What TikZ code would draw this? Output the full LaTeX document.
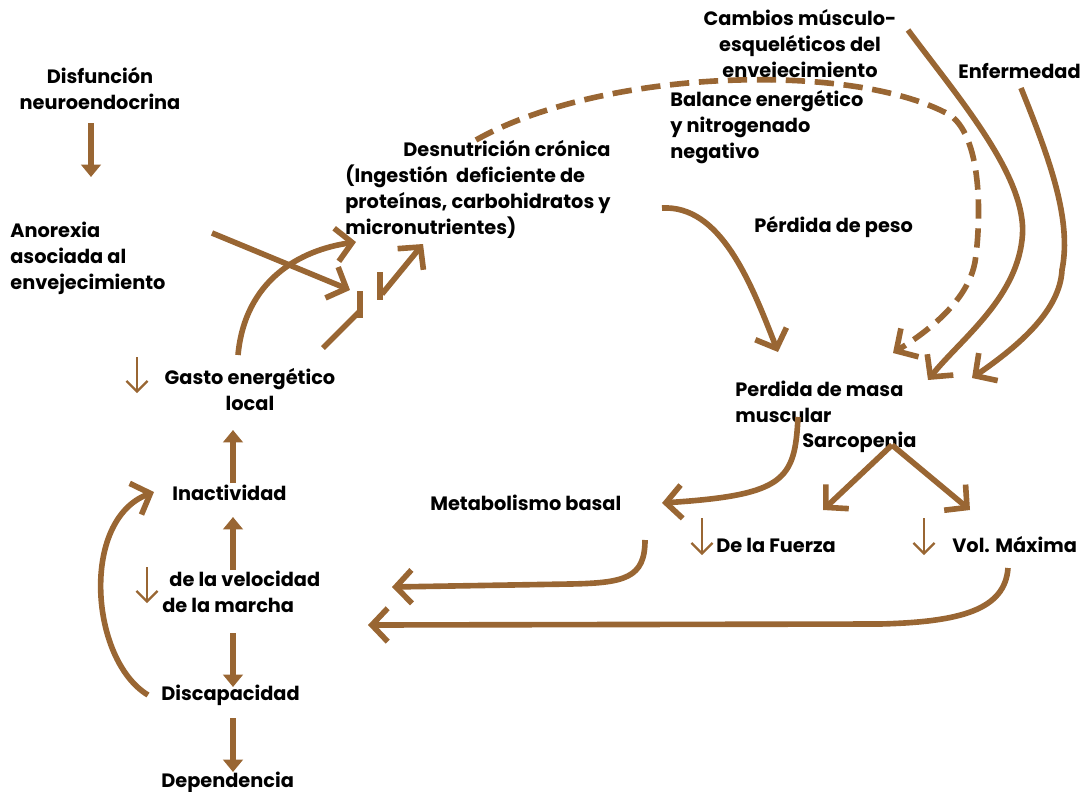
\documentclass[tikz,border=0pt]{standalone}
\usepackage{fontspec}
\setmainfont{Poppins}
\usetikzlibrary{arrows.meta}
\definecolor{brn}{RGB}{153,102,51}

\tikzset{
  lbl/.style={font=\bfseries\fontsize{11}{14.7}\selectfont, inner sep=0pt, anchor=base west, align=left},
  flow/.style={draw=brn, line width=3.2pt, -{Straight Barb[length=9pt,width=19pt]}},
  vflow/.style={draw=brn, line width=3.4pt, -{Triangle[length=7pt,width=11pt]}},
  dn/.style={draw=brn, line width=1.3pt, -{Straight Barb[length=6pt,width=12pt]}},
}

\begin{document}
\begin{tikzpicture}[x=0.02cm, y=-0.02cm]
    \useasboundingbox (0,0) rectangle (1090,792);

    % Labels (placed at the baseline of their last line)
    \node[lbl, anchor=base, align=center] (disf) at (100,109) {Disfunción\\neuroendocrina};
    \node[lbl] (anor) at (10,289) {Anorexia\\asociada al\\envejecimiento};
    \node[lbl] (desn) at (345,234) {\hspace*{33pt}Desnutrición crónica\\(Ingestión\ \ deficiente de\\proteínas, carbohidratos y\\micronutrientes)};
    \node[lbl, anchor=base, align=center] (camb) at (800,77) {Cambios músculo-\\esqueléticos del\\envejecimiento};
    \node[lbl] (enf) at (958,78) {Enfermedad};
    \node[lbl] (bal) at (670,158) {Balance energético\\y nitrogenado\\negativo};
    \node[lbl] (peso) at (754,232) {Pérdida de peso};
    \node[lbl] (masa) at (735,422) {Perdida de masa\\muscular};
    \node[lbl] (sarc) at (802,447) {Sarcopenia};
    \node[lbl] (meta) at (430,510) {Metabolismo basal};
    \node[lbl] (fuer) at (716,552) {De la Fuerza};
    \node[lbl] (vol) at (952,552) {Vol. Máxima};
    \node[lbl, anchor=base, align=center] (gasto) at (250,410) {Gasto energético\\local};
    \node[lbl] (inac) at (172,500) {Inactividad};
    \node[lbl] (velo) at (162,612) {\hspace*{4pt}de la velocidad\\de la marcha};
    \node[lbl] (disc) at (161,700) {Discapacidad};
    \node[lbl] (depe) at (161,787) {Dependencia};

    % Points
    \coordinate (d1) at (91,123);   \coordinate (d2) at (91,177);
    \coordinate (a1) at (212,233);  \coordinate (a2) at (350,290);
    \coordinate (g1) at (238,355);  \coordinate (g2) at (356,242);
    \coordinate (x1) at (323,348);  \coordinate (x2) at (361,310);
    \coordinate (x3) at (382,294);  \coordinate (x4) at (423,244);
    \coordinate (b1) at (360,291);  \coordinate (b2) at (360,318);
    \coordinate (b3) at (380,272);  \coordinate (b4) at (380,300);
    \coordinate (s1) at (476,140);  \coordinate (s2) at (950,115);
    \coordinate (s3) at (975,262);  \coordinate (s4) at (893,353);
    \coordinate (c1) at (908,30);   \coordinate (c2) at (1022,240);
    \coordinate (c3) at (928,380);
    \coordinate (e1) at (1021,88);  \coordinate (e2) at (1062,270);
    \coordinate (e3) at (972,378);
    \coordinate (p1) at (662,208);  \coordinate (p2) at (778,352);
    \coordinate (m1) at (798,417);  \coordinate (m2) at (662,503);
    \coordinate (r0) at (892,445);
    \coordinate (r1) at (823,510);  \coordinate (r2) at (970,510);
    \coordinate (t1) at (645,540);  \coordinate (t2) at (570,584);
    \coordinate (t3) at (392,587);
    \coordinate (v1) at (1008,568); \coordinate (v2) at (880,624);
    \coordinate (v3) at (368,625);
    \coordinate (k1) at (148,695);  \coordinate (k2) at (154,492);

    % Left column
    \draw[vflow] (d1) -- (d2);
    \draw[vflow] (233,483) -- (233,430);
    \draw[vflow] (233,570) -- (233,517);
    \draw[vflow] (233,633) -- (233,687);
    \draw[vflow] (233,718) -- (233,772);
    \draw[flow] (k1) .. controls (90,660) and (80,520) .. (k2);

    % Towards malnutrition
    \draw[flow] (a1) -- (a2);
    \draw[flow] (g1) .. controls (245,280) and (300,250) .. (g2);
    \draw[draw=brn, line width=3.2pt] (x1) -- (x2);
    \draw[flow] (x3) -- (x4);
    \draw[draw=brn, line width=3.2pt] (b1) -- (b2);
    \draw[draw=brn, line width=3.2pt] (b3) -- (b4);

    % Right side
    \draw[flow, dash pattern=on 11pt off 5.5pt] (s1) .. controls (600,70) and (850,60) .. (s2)
        .. controls (985,140) and (980,230) .. (s3)
        .. controls (968,300) and (930,330) .. (s4);
    \draw[flow] (c1) .. controls (960,100) and (1030,180) .. (c2)
        .. controls (1015,300) and (960,340) .. (c3);
    \draw[flow] (e1) .. controls (1050,160) and (1072,220) .. (e2)
        .. controls (1060,310) and (1020,345) .. (e3);
    \draw[flow] (p1) .. controls (720,205) and (750,280) .. (p2);
    \draw[flow] (m1) .. controls (795,480) and (785,495) .. (m2);
    \draw[flow] (r0) -- (r1);
    \draw[flow] (r0) -- (r2);
    \draw[flow] (t1) .. controls (645,578) and (625,583) .. (t2) -- (t3);
    \draw[flow] (v1) .. controls (1005,610) and (960,622) .. (v2) -- (v3);

    % Small arrows
    \draw[dn] (137,357) -- (137,393);
    \draw[dn] (147,567) -- (147,603);
    \draw[dn] (702,518) -- (702,555);
    \draw[dn] (924,518) -- (924,555);
\end{tikzpicture}
\end{document}
